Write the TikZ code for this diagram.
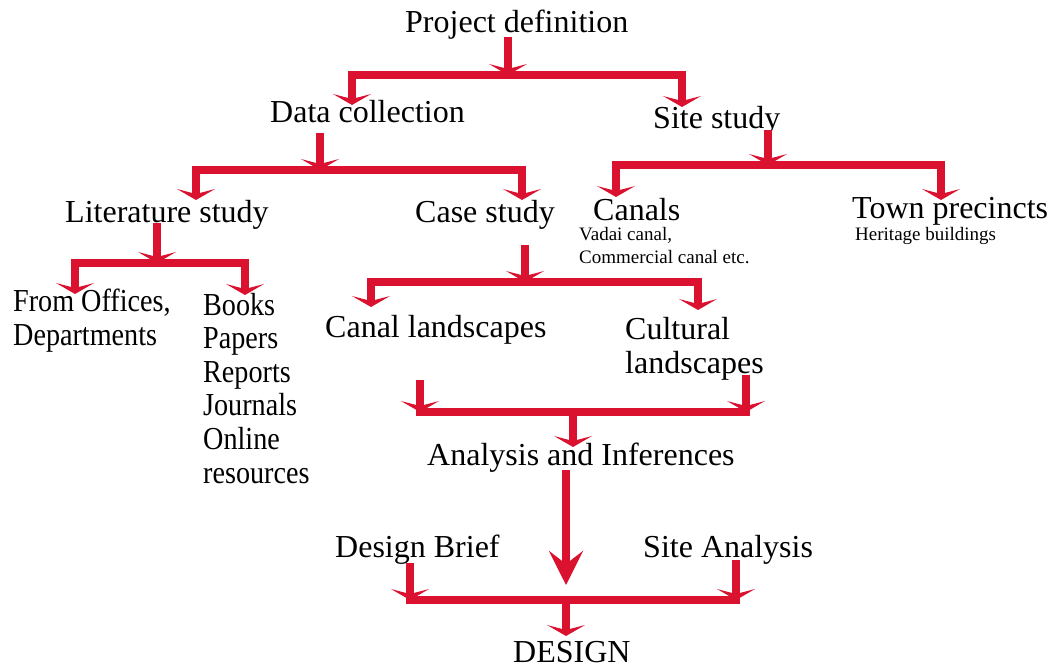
\documentclass[tikz,border=0pt]{standalone}
\usepackage{fontspec}
\setmainfont{Liberation Serif}
\newfontfamily\narrowserif{Liberation Serif}[FakeStretch=0.88]
\usetikzlibrary{arrows.meta,calc}
\definecolor{flowred}{RGB}{218,18,48}
\begin{document}
\begin{tikzpicture}[x=1pt,y=-1pt,
  lbl/.style={inner sep=0pt, anchor=base west, font=\fontsize{32}{33.6}\selectfont, align=left},
  narrowlbl/.style={lbl, font=\narrowserif\fontsize{32}{33.6}\selectfont},
  sub/.style={inner sep=0pt, anchor=base west, font=\fontsize{19}{23}\selectfont, align=left},
  conn/.style={draw=flowred, line width=8pt, line join=miter, -{Stealth[length=11pt,width=38pt,inset=5pt]}},
  bigconn/.style={draw=flowred, line width=8pt, -{Stealth[length=34pt,width=34pt,inset=13pt]}},
  barline/.style={draw=flowred, line width=8pt, line cap=rect}]
\useasboundingbox (0,0) rectangle (1048,667);
% text nodes (multi-line nodes are placed by the baseline of their last line)
\node[lbl] (pd) at (405,32) {Project definition};
\node[lbl] (dc) at (270,122) {Data collection};
\node[lbl] (ss) at (653,128) {Site study};
\node[lbl] (ls) at (65,222) {Literature study};
\node[lbl] (cs) at (415,222) {Case study};
\node[lbl] (ca) at (593,220) {Canals};
\node[sub] (cad) at (579,263) {Vadai canal,\\Commercial canal etc.};
\node[lbl] (tp) at (852,218) {Town precincts};
\node[sub] (tpd) at (855,240) {Heritage buildings};
\node[narrowlbl] (fo) at (13,345) {From Offices,\\Departments};
\node[narrowlbl] (bk) at (203,483) {Books\\Papers\\Reports\\Journals\\Online\\resources};
\node[lbl] (cl) at (325,337) {Canal landscapes};
\node[lbl] (cu) at (625,373) {Cultural\\landscapes};
\node[lbl] (an) at (427,465) {Analysis and Inferences};
\node[lbl] (db) at (335,557) {Design Brief};
\node[lbl] (sa) at (643,557) {Site Analysis};
\node[lbl] (de) at (513,662) {DESIGN};
% junctions and tips
\coordinate (j1) at (508,75);
\coordinate (j2) at (320,170);
\coordinate (j3) at (768,165);
\coordinate (j4) at (157,263);
\coordinate (j5) at (525,282);
\coordinate (j6) at (573,410);
\coordinate (j7) at (566,598);
\coordinate (t1a) at (352,105);
\coordinate (t1b) at (682,107);
\coordinate (t2a) at (196,200);
\coordinate (t2b) at (522,200);
\coordinate (t3a) at (616,197);
\coordinate (t3b) at (941,200);
\coordinate (t4a) at (75,294);
\coordinate (t4b) at (245,295);
\coordinate (t5a) at (371,307);
\coordinate (t5b) at (698,310);
\coordinate (m6a) at (420,412);
\coordinate (m6b) at (746,412);
\coordinate (t6) at (573,447);
\coordinate (t7) at (566,585);
\coordinate (m8a) at (410,600);
\coordinate (m8b) at (736,600);
\coordinate (t8) at (566,636);
% connectors
\draw[conn] ($(j1 |- pd.base)+(0,5)$) -- (j1);
\draw[conn] (j1) -| (t1a);
\draw[conn] (j1) -| (t1b);
\draw[conn] ($(j2 |- dc.base)+(0,11)$) -- (j2);
\draw[conn] (j2) -| (t2a);
\draw[conn] (j2) -| (t2b);
\draw[conn] ($(j3 |- ss.base)+(0,2)$) -- (j3);
\draw[conn] (j3) -| (t3a);
\draw[conn] (j3) -| (t3b);
\draw[conn] ($(j4 |- ls.base)+(0,1)$) -- (j4);
\draw[conn] (j4) -| (t4a);
\draw[conn] (j4) -| (t4b);
\draw[conn] ($(j5 |- cs.base)+(0,23)$) -- (j5);
\draw[conn] (j5) -| (t5a);
\draw[conn] (j5) -| (t5b);
\draw[barline] (m6a) -- (m6b);
\draw[conn] ($(m6a |- cl.base)+(0,43)$) -- (m6a);
\draw[conn] ($(m6b |- cu.base)+(0,2)$) -- (m6b);
\draw[conn] (j6) -- (t6);
\draw[bigconn] ($(t7 |- an.base)+(0,5)$) -- (t7);
\draw[barline] (m8a) -- (m8b);
\draw[conn] ($(m8a |- db.base)+(0,6)$) -- (m8a);
\draw[conn] ($(m8b |- sa.base)+(0,3)$) -- (m8b);
\draw[conn] (j7) -- (t8);
\end{tikzpicture}
\end{document}
